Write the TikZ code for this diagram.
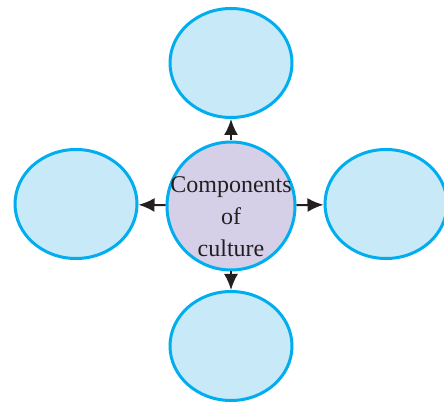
\documentclass[tikz,border=0pt]{standalone}
\usepackage{fontspec}
\setmainfont{Liberation Serif}
\usetikzlibrary{arrows.meta,shapes.geometric}
\definecolor{rim}{HTML}{00AEEF}
\definecolor{pale}{HTML}{C8E9F8}
\definecolor{lilac}{HTML}{D5D0E8}
\definecolor{ink}{HTML}{231F20}

\begin{document}
\begin{tikzpicture}[x=1pt, y=1pt,
		blank/.style={ellipse, draw=rim, fill=pale, line width=3pt, inner sep=0pt, minimum width=122pt, minimum height=109pt},
		hub/.style={circle, draw=rim, fill=lilac, line width=3pt, inner sep=0pt, minimum size=128pt},
		caption/.style={text=ink, align=center, inner sep=0pt, font=\fontsize{24}{32}\selectfont},
		link/.style={draw=ink, line width=2pt, -{Latex[length=16pt, width=14pt]}}]
			%%%%% START %%%%%
			
			\useasboundingbox (0, 0) rectangle (444, 404);
			
			\node[hub] (comp) at (231, 198) {};
			\node[caption] (name) at (231, 187) {Components\\of\\culture};
			
			\node[blank] (up) at (231, 341) {};
			\node[blank] (lt) at (76, 200) {};
			\node[blank] (rt) at (386, 200) {};
			\node[blank] (dn) at (231, 58) {};
			
			\draw[link] (comp) -- (up);
			\draw[link] (comp) -- (lt);
			\draw[link] (comp) -- (rt);
			\draw[link] (comp) -- (dn);
			
			%%%%% END %%%%%
		\end{tikzpicture}
\end{document}
